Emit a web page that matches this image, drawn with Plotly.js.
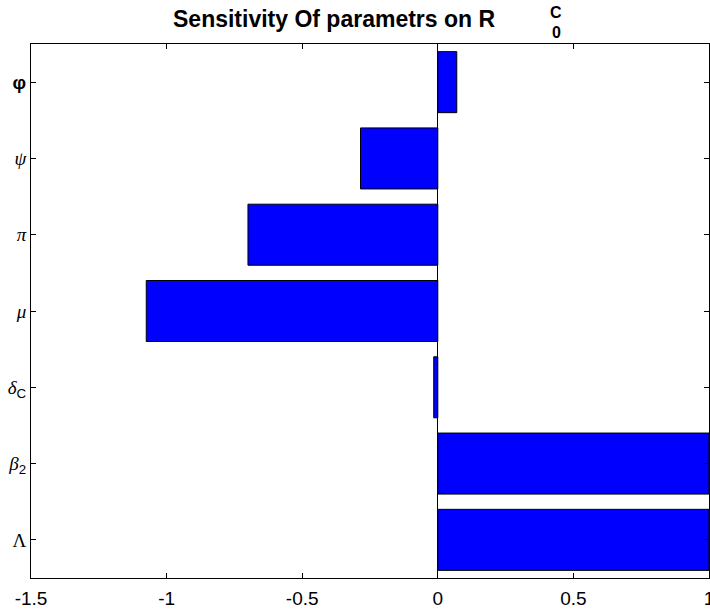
<!DOCTYPE html>
<html>
<head>
<meta charset="utf-8">
<script src="https://cdn.plot.ly/plotly-3.0.1.min.js"></script>
<style>
  html, body { margin: 0; padding: 0; background: #fff; }
  #myDiv { width: 710px; height: 609px; }
</style>
</head>
<body>
<div id="myDiv"></div>
<script>
// parameters, bottom to top
const params = ['Lambda', 'beta2', 'deltaC', 'mu', 'pi', 'psi', 'phi'];
const paramLabels = [
    '<span style="font-family:Liberation Serif">Λ</span>',
    '<span style="font-family:Liberation Serif"><i>β</i></span><sub>2</sub>',
    '<span style="font-family:Liberation Serif"><i>δ</i></span><sub>C</sub>',
    '<span style="font-family:Liberation Serif"><i>μ</i></span>',
    '<span style="font-family:Liberation Serif"><i>π</i></span>',
    '<span style="font-family:Liberation Serif"><i>ψ</i></span>',
    '<b>φ</b>'
];
const sensitivity = [1.0, 1.0, -0.015, -1.075, -0.70, -0.285, 0.07];
const xTicks = [-1.5, -1, -0.5, 0, 0.5, 1];
const xTickText = ['-1.5', '-1', '-0.5', '0', '0.5', '1'];

var data = [{
    type: 'bar',
    orientation: 'h',
    y: params,
    x: sensitivity,
    width: 0.8,
    marker: {
        color: '#0000ff',
        line: { color: '#000000', width: 1 }
    },
    hoverinfo: 'x+y'
}];

// title positions in px (plot top is at 44, plot left at 31, plot width 678)
const px = v => (v - 31) / 678;

var layout = {
    width: 710,
    height: 609,
    margin: { l: 31, r: 1, t: 44, b: 31 },
    paper_bgcolor: '#ffffff',
    plot_bgcolor: '#ffffff',
    showlegend: false,
    font: { family: 'Liberation Sans, Arial, sans-serif', size: 16, color: '#000' },
    xaxis: {
        range: [-1.5, 1],
        tickvals: xTicks,
        ticktext: xTickText,
        ticks: 'inside',
        ticklen: 5,
        tickcolor: '#000',
        showline: true,
        linecolor: '#000',
        linewidth: 1,
        mirror: 'ticks',
        showgrid: false,
        zeroline: true,
        zerolinecolor: '#000',
        zerolinewidth: 1,
        ticklabeloverflow: 'allow',
        ticklabelstandoff: 3,
        tickfont: { size: 19 }
    },
    yaxis: {
        type: 'category',
        categoryorder: 'array',
        categoryarray: params,
        range: [-0.5, 6.5],
        tickvals: params,
        ticktext: paramLabels,
        ticks: 'inside',
        ticklen: 5,
        tickcolor: '#000',
        showline: true,
        linecolor: '#000',
        linewidth: 1,
        mirror: 'ticks',
        showgrid: false,
        zeroline: false,
        tickfont: { size: 19 }
    },
    annotations: [
        { text: '<b>Sensitivity Of parametrs on R</b>', xref: 'paper', yref: 'paper',
          x: px(334), y: 1, xanchor: 'center', yanchor: 'middle', yshift: 25,
          showarrow: false, font: { size: 23 } },
        { text: '<b>C</b>', xref: 'paper', yref: 'paper',
          x: px(556), y: 1, xanchor: 'center', yanchor: 'middle', yshift: 32,
          showarrow: false, font: { size: 16 } },
        { text: '<b>0</b>', xref: 'paper', yref: 'paper',
          x: px(556), y: 1, xanchor: 'center', yanchor: 'middle', yshift: 12,
          showarrow: false, font: { size: 16 } }
    ]
};

Plotly.newPlot('myDiv', data, layout, { displayModeBar: false, staticPlot: true });
</script>
</body>
</html>
